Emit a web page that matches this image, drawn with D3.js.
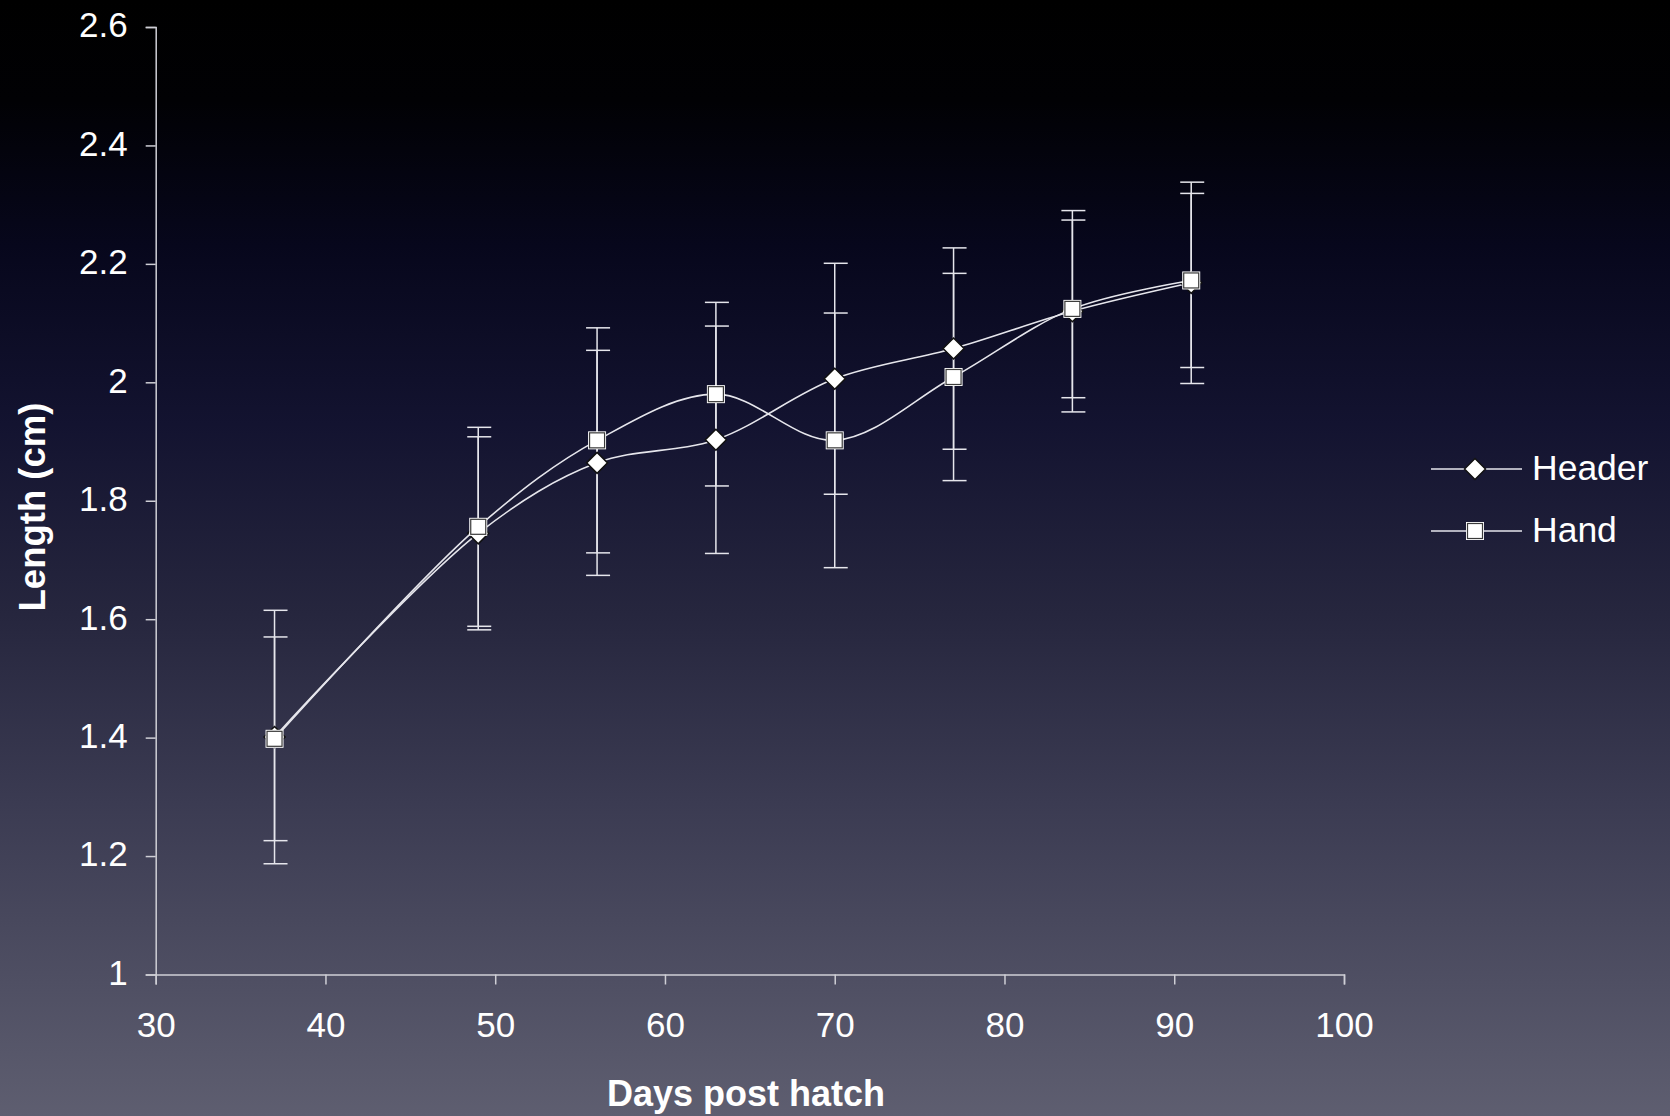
<!DOCTYPE html>
<html>
  <head>
    <meta charset="utf-8">
    <script src="https://d3js.org/d3.v7.min.js"></script>
    <style>
      body {
        margin: 0;
        background: #000;
      }
      text {
        font-family: "Liberation Sans", Arial, sans-serif;
        fill: #ffffff;
      }
    </style>
  </head>
<body>
  <script type="text/javascript">
    /*
      Data
    */
    var days = [37, 49, 56, 63, 70, 77, 84, 91];
    var header = [1.401, 1.745, 1.864, 1.903, 2.006, 2.057, 2.120, 2.168];
    var headerErr = [0.214, 0.163, 0.19, 0.192, 0.195, 0.17, 0.17, 0.17];
    var hand = [1.398, 1.756, 1.902, 1.980, 1.902, 2.009, 2.124, 2.172];
    var handErr = [0.172, 0.168, 0.19, 0.155, 0.215, 0.175, 0.15, 0.147];
    var xTicks = [30, 40, 50, 60, 70, 80, 90, 100];
    var yTicks = [1, 1.2, 1.4, 1.6, 1.8, 2, 2.2, 2.4, 2.6];

    var width = 1670,
        height = 1116;

    var svg = d3.select("body")
        .append("svg")
        .attr("width", width)
        .attr("height", height);

    /*
      Background gradient (black at the top, slate at the bottom)
    */
    var grad = svg.append("defs")
        .append("linearGradient")
        .attr("id", "bg")
        .attr("x1", 0).attr("y1", 0)
        .attr("x2", 0).attr("y2", 1);
    [["0%", "#000000"], ["9%", "#010104"], ["22%", "#07071c"],
     ["38%", "#131330"], ["55%", "#26263e"], ["72%", "#3b3b52"],
     ["88%", "#4f4f63"], ["100%", "#5e5e70"]].forEach(function(s) {
        grad.append("stop").attr("offset", s[0]).attr("stop-color", s[1]);
    });
    svg.append("rect")
        .attr("width", width)
        .attr("height", height)
        .attr("fill", "url(#bg)");

    var x = d3.scaleLinear().domain([30, 100]).range([155.7, 1344]);
    var y = d3.scaleLinear().domain([1, 2.6]).range([974.5, 27]);

    /*
      Axes
    */
    var axisColor = "#cfcfd6";
    var xAxis = svg.append("g")
        .attr("transform", "translate(0," + y(1) + ")")
        .call(d3.axisBottom(x).tickValues(xTicks).tickSize(10).tickPadding(28)
              .tickFormat(d3.format("d")));
    var yAxis = svg.append("g")
        .attr("transform", "translate(" + x(30) + ",0)")
        .call(d3.axisLeft(y).tickValues(yTicks).tickSize(10).tickPadding(18)
              .tickFormat(function(d) { return d3.format("")(+d.toFixed(1)); }));

    [xAxis, yAxis].forEach(function(a) {
        a.selectAll(".domain").attr("stroke", axisColor).attr("stroke-width", 1.5);
        a.selectAll(".tick line").attr("stroke", axisColor).attr("stroke-width", 1.5);
        a.selectAll(".tick text")
            .attr("fill", "#fff")
            .style("font-size", "35px")
            .style("font-family", "'Liberation Sans', Arial, sans-serif");
    });
    yAxis.selectAll(".tick text").attr("dy", "0.28em");
    xAxis.selectAll(".tick text").attr("dy", "0.71em");

    svg.append("text")
        .attr("x", 746)
        .attr("y", 1106)
        .attr("text-anchor", "middle")
        .style("font-size", "36px")
        .style("font-weight", "bold")
        .text("Days post hatch");

    svg.append("text")
        .attr("transform", "translate(45,507) rotate(-90)")
        .attr("text-anchor", "middle")
        .style("font-size", "36.5px")
        .style("font-weight", "bold")
        .text("Length (cm)");

    /*
      Series: error bars, smoothed lines, markers
    */
    var series = [
        {name: "Header", values: header, err: headerErr, marker: "diamond"},
        {name: "Hand", values: hand, err: handErr, marker: "square"}
    ];

    var lineColor = "#e6e6ec";
    var capHalf = 12;

    series.forEach(function(s) {
        var g = svg.append("g");
        days.forEach(function(d, i) {
            var cx = x(d),
                top = y(s.values[i] + s.err[i]),
                bot = y(s.values[i] - s.err[i]);
            g.append("line")
                .attr("x1", cx).attr("x2", cx)
                .attr("y1", top).attr("y2", bot)
                .attr("stroke", lineColor).attr("stroke-width", 1.5);
            [top, bot].forEach(function(yy) {
                g.append("line")
                    .attr("x1", cx - capHalf + 1).attr("x2", cx + capHalf + 1)
                    .attr("y1", yy).attr("y2", yy)
                    .attr("stroke", lineColor).attr("stroke-width", 1.5);
            });
        });
    });

    var line = d3.line()
        .x(function(d) { return x(d[0]); })
        .y(function(d) { return y(d[1]); })
        .curve(d3.curveCatmullRom.alpha(0.5));

    function drawMarker(g, mx, my, kind) {
        if (kind === "diamond") {
            var r = 10.5;
            g.append("path")
                .attr("d", "M" + mx + "," + (my - r) + "L" + (mx + r) + "," + my +
                           "L" + mx + "," + (my + r) + "L" + (mx - r) + "," + my + "Z")
                .attr("fill", "#ffffff")
                .attr("stroke", "#111")
                .attr("stroke-width", 1.5);
        } else {
            g.append("rect")
                .attr("x", mx - 9).attr("y", my - 9)
                .attr("width", 18).attr("height", 18)
                .attr("fill", "#ffffff");
            g.append("rect")
                .attr("x", mx - 7.5).attr("y", my - 7.5)
                .attr("width", 15).attr("height", 15)
                .attr("fill", "#ffffff")
                .attr("stroke", "#3a3a3a")
                .attr("stroke-width", 1.2);
        }
    }

    series.forEach(function(s) {
        var g = svg.append("g");
        g.append("path")
            .datum(days.map(function(d, i) { return [d, s.values[i]]; }))
            .attr("d", line)
            .attr("fill", "none")
            .attr("stroke", lineColor)
            .attr("stroke-width", 1.6);
        days.forEach(function(d, i) {
            drawMarker(g, x(d), y(s.values[i]), s.marker);
        });
    });

    /*
      Legend
    */
    var legendY = [469, 531];
    series.forEach(function(s, i) {
        var g = svg.append("g");
        g.append("line")
            .attr("x1", 1431).attr("x2", 1522)
            .attr("y1", legendY[i]).attr("y2", legendY[i])
            .attr("stroke", lineColor).attr("stroke-width", 1.5);
        drawMarker(g, 1475, legendY[i], s.marker);
        g.append("text")
            .attr("x", 1532)
            .attr("y", legendY[i] + 11)
            .style("font-size", "35.5px")
            .text(s.name);
    });
  </script>
</body>
</html>
